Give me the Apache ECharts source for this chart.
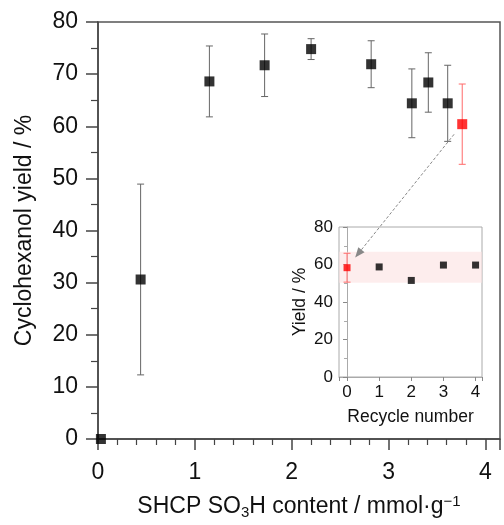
<!DOCTYPE html>
<html>
<head>
<meta charset="utf-8">
<script src="https://cdn.jsdelivr.net/npm/echarts@6/dist/echarts.min.js"></script>
<style>html,body{margin:0;padding:0;background:#fff}#c{width:504px;height:525px}</style>
</head>
<body>
<div id="c"></div>
<script>
// Main chart data
const contentX = [0.03, 0.44, 1.15, 1.72, 2.20, 2.82, 3.24, 3.41, 3.61];
const yieldY   = [0, 30.6, 68.6, 71.7, 74.8, 71.9, 64.4, 68.4, 64.4];
const yieldErr = [0, 18.3, 6.8, 6.0, 2.0, 4.5, 6.6, 5.7, 7.3];
const redX = [3.76];
const redY = [60.4];
const redErr = [7.7];
// Inset data
const recycleN = [0, 1, 2, 3, 4];
const recycleY = [58.3, 58.7, 51.5, 59.7, 59.7];
const recycleErr0 = 7.7;
const bandRange = [50.3, 66.8];
const mainYTicks = [0, 80, 10];
const insetYTicks = [0, 80, 20];

const FONT = 'Liberation Sans, Arial, sans-serif';
const pts = (xs, ys) => xs.map((x, i) => [x, ys[i]]);
const errs = (xs, ys, es) => xs.map((x, i) => [x, ys[i] - es[i], ys[i] + es[i]]);

function errRender(color, half) {
  return function (params, api) {
    const x = api.value(0), lo = api.value(1), hi = api.value(2);
    if (hi - lo <= 0) return null;
    const a = api.coord([x, lo]), b = api.coord([x, hi]);
    const st = { stroke: color, lineWidth: 1 };
    return {
      type: 'group',
      children: [
        { type: 'line', shape: { x1: a[0], y1: a[1], x2: b[0], y2: b[1] }, style: st },
        { type: 'line', shape: { x1: a[0] - half, y1: a[1], x2: a[0] + half, y2: a[1] }, style: st },
        { type: 'line', shape: { x1: b[0] - half, y1: b[1], x2: b[0] + half, y2: b[1] }, style: st }
      ]
    };
  };
}

const chart = echarts.init(document.getElementById('c'), null, { renderer: 'canvas' });
const option = {
  animation: false,
  textStyle: { fontFamily: FONT },
  grid: [
    { left: 98, top: 22, right: 4, bottom: 84, show: true, borderColor: '#555', borderWidth: 1.5, backgroundColor: 'transparent' },
    { left: 339, top: 227, right: 22, bottom: 148, show: true, borderColor: '#aaa', borderWidth: 1, backgroundColor: '#fff' }
  ],
  xAxis: [
    {
      gridIndex: 0, type: 'value', min: 0, max: 4.15, interval: 1,
      name: 'SHCP SO{sub|3}H content / mmol·g{sup|−1}', nameLocation: 'middle', nameGap: 54,
      nameTextStyle: {
        fontSize: 23, color: '#111', fontFamily: FONT,
        rich: {
          sub: { fontSize: 15, color: '#111', fontFamily: FONT, padding: [12, 0, 0, 0] },
          sup: { fontSize: 15, color: '#111', fontFamily: FONT, padding: [0, 0, 10, 0] }
        }
      },
      axisLine: { lineStyle: { color: '#444', width: 1.5 } },
      axisTick: { inside: false, length: 11, lineStyle: { color: '#444', width: 1.5 } },
      minorTick: { show: true, splitNumber: 5, length: 6, lineStyle: { color: '#444', width: 1.2 } },
      axisLabel: { fontSize: 23, color: '#111', margin: 22, fontFamily: FONT,
        formatter: v => (Math.abs(v - Math.round(v)) < 1e-6 ? String(Math.round(v)) : '') },
      splitLine: { show: false }
    },
    {
      gridIndex: 1, type: 'value', min: -0.25, max: 4.2, splitNumber: 5,
      name: 'Recycle number', nameLocation: 'middle', nameGap: 31,
      nameTextStyle: { fontSize: 17.5, color: '#111', fontFamily: FONT },
      axisLine: { lineStyle: { color: '#aaa', width: 1 } },
      axisTick: { inside: false, length: 4, lineStyle: { color: '#888' } },
      axisLabel: { fontSize: 17, color: '#111', margin: 7, fontFamily: FONT,
        formatter: v => (Math.abs(v - Math.round(v)) < 1e-6 && v >= 0 && v <= 4 ? String(Math.round(v)) : '') },
      splitLine: { show: false }
    }
  ],
  yAxis: [
    {
      gridIndex: 0, type: 'value', min: mainYTicks[0], max: mainYTicks[1], interval: mainYTicks[2],
      name: 'Cyclohexanol yield / %', nameLocation: 'middle', nameGap: 62, nameRotate: 90,
      nameTextStyle: { fontSize: 23, color: '#111', fontFamily: FONT },
      axisLine: { lineStyle: { color: '#444', width: 1.5 } },
      axisTick: { inside: false, length: 12, lineStyle: { color: '#444', width: 1.5 } },
      minorTick: { show: true, splitNumber: 2, length: 7, lineStyle: { color: '#444', width: 1.2 } },
      axisLabel: { fontSize: 23, color: '#111', margin: 20, fontFamily: FONT },
      splitLine: { show: false }
    },
    {
      gridIndex: 1, type: 'value', min: insetYTicks[0], max: insetYTicks[1], interval: insetYTicks[2],
      name: 'Yield / %', nameLocation: 'middle', nameGap: 30, nameRotate: 90,
      nameTextStyle: { fontSize: 17.5, color: '#111', fontFamily: FONT },
      axisLine: { lineStyle: { color: '#aaa', width: 1 } },
      axisTick: { inside: false, length: 4, lineStyle: { color: '#888' } },
      minorTick: { show: true, splitNumber: 2, length: 3, lineStyle: { color: '#aaa' } },
      axisLabel: { fontSize: 17, color: '#111', margin: 6, fontFamily: FONT },
      splitLine: { show: false }
    }
  ],
  series: [
    { type: 'custom', xAxisIndex: 0, yAxisIndex: 0, renderItem: errRender('#666', 3.5),
      data: errs(contentX, yieldY, yieldErr), z: 2, silent: true },
    { type: 'custom', xAxisIndex: 0, yAxisIndex: 0, renderItem: errRender('#ff6a6a', 3.5),
      data: errs(redX, redY, redErr), z: 2, silent: true },
    { type: 'scatter', xAxisIndex: 0, yAxisIndex: 0, symbol: 'rect', symbolSize: 10,
      itemStyle: { color: '#000' }, data: pts(contentX, yieldY), z: 3 },
    { type: 'scatter', xAxisIndex: 0, yAxisIndex: 0, symbol: 'rect', symbolSize: 10,
      itemStyle: { color: '#ff0000' }, data: pts(redX, redY), z: 3 },
    // inset
    { type: 'custom', xAxisIndex: 1, yAxisIndex: 1, renderItem: errRender('#ff6a6a', 3.5),
      data: [[recycleN[0], recycleY[0] - recycleErr0, recycleY[0] + recycleErr0]], z: 4, silent: true },
    { type: 'scatter', xAxisIndex: 1, yAxisIndex: 1, symbol: 'rect', symbolSize: 7,
      itemStyle: { color: '#000' }, data: pts(recycleN.slice(1), recycleY.slice(1)), z: 5,
      markArea: { silent: true, itemStyle: { color: 'rgba(252,225,225,0.6)' },
        data: [[{ yAxis: bandRange[0], xAxis: -0.25 }, { yAxis: bandRange[1], xAxis: 4.2 }]] } },
    { type: 'scatter', xAxisIndex: 1, yAxisIndex: 1, symbol: 'rect', symbolSize: 7,
      itemStyle: { color: '#ff0000' }, data: [[recycleN[0], recycleY[0]]], z: 5 }
  ]
};
chart.setOption(option);

// Arrow from main red point to inset red point
const p1 = chart.convertToPixel({ gridIndex: 0 }, [redX[0], redY[0]]);
const p2 = chart.convertToPixel({ gridIndex: 1 }, [recycleN[0], recycleY[0]]);
const dx = p2[0] - p1[0], dy = p2[1] - p1[1];
const L = Math.hypot(dx, dy), ux = dx / L, uy = dy / L;
const s = [p1[0] + ux * 13, p1[1] + uy * 13];
const t = [p2[0] - ux * 13, p2[1] - uy * 13];
const hl = 10, hw = 4;
const base = [t[0] - ux * hl, t[1] - uy * hl];
chart.setOption({
  graphic: [
    { type: 'line', z: 100, shape: { x1: s[0], y1: s[1], x2: base[0], y2: base[1] },
      style: { stroke: '#888', lineWidth: 1, lineDash: [3, 2] } },
    { type: 'polygon', z: 100, shape: { points: [t, [base[0] - uy * hw, base[1] + ux * hw], [base[0] + uy * hw, base[1] - ux * hw]] },
      style: { fill: '#888' } }
  ]
});
</script>
</body>
</html>
